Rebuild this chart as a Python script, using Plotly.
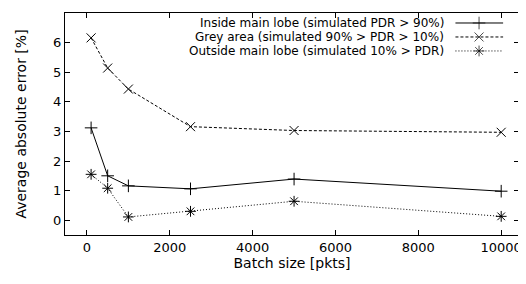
import plotly.graph_objects as go

batch_sizes = [100, 500, 1000, 2500, 5000, 10000]
inside_err = [3.12, 1.50, 1.16, 1.06, 1.39, 0.98]
grey_err = [6.16, 5.14, 4.43, 3.16, 3.03, 2.97]
outside_err = [1.55, 1.08, 0.11, 0.30, 0.64, 0.13]

series_names = [
    "Inside main lobe (simulated PDR > 90%)",
    "Grey area (simulated 90% > PDR > 10%)",
    "Outside main lobe (simulated 10% > PDR)",
]
x_ticks = [0, 2000, 4000, 6000, 8000, 10000]
x_tick_labels = ["0", "2000", "4000", "6000", "8000", "10000"]
y_ticks = [0, 1, 2, 3, 4, 5, 6, 7]

styles = [
    dict(dash="solid", symbol="cross-thin-open"),
    dict(dash="3px,2px", symbol="x-thin-open"),
    dict(dash="1px,2px", symbol="asterisk-open"),
]
values = [inside_err, grey_err, outside_err]

FONT = "DejaVu Sans, Liberation Sans, Arial, sans-serif"
fig = go.Figure()

for name, vals, st in zip(series_names, values, styles):
    fig.add_trace(go.Scatter(
        x=batch_sizes, y=vals, mode="lines+markers", name=name, showlegend=False,
        line=dict(color="black", width=1, dash=st["dash"]),
        marker=dict(symbol=st["symbol"], size=9, color="black",
                    line=dict(color="black", width=1)),
    ))

# gnuplot-style key: text right-aligned, sample on the right
key_rows = [0.955, 0.892, 0.829]
key_x0, key_xm, key_x1 = 0.860, 0.912, 0.965
for name, st, ry in zip(series_names, styles, key_rows):
    fig.add_trace(go.Scatter(
        x=[key_x0, key_xm, key_x1], y=[ry, ry, ry], xaxis="x2", yaxis="y2",
        mode="lines+markers", showlegend=False, hoverinfo="skip",
        line=dict(color="black", width=1, dash=st["dash"]),
        marker=dict(symbol=st["symbol"], size=[0, 9, 0], color="black",
                    line=dict(color="black", width=1)),
    ))
    fig.add_annotation(x=0.836, y=ry, xref="paper", yref="paper", text=name,
                       showarrow=False, xanchor="right", yanchor="middle",
                       borderpad=0,
                       font=dict(family=FONT, size=12, color="black"))

axis_common = dict(
    showgrid=False, zeroline=False, showline=True, linecolor="black", linewidth=1,
    mirror="allticks", ticks="inside", ticklen=5, tickcolor="black", tickwidth=1,
    tickfont=dict(family=FONT, size=13, color="black"),
)

fig.update_layout(
    width=518, height=276,
    margin=dict(l=57, r=5, t=4, b=49),
    paper_bgcolor="white", plot_bgcolor="white",
    font=dict(family=FONT, size=13, color="black"),
    xaxis=dict(range=[-530, 10430], tickvals=x_ticks, ticktext=x_tick_labels,
               title=dict(text="Batch size [pkts]", standoff=4,
                          font=dict(family=FONT, size=14, color="black")),
               **axis_common),
    yaxis=dict(range=[-0.5, 7], tickvals=y_ticks,
               title=dict(text="Average absolute error [%]", standoff=23,
                          font=dict(family=FONT, size=14, color="black")),
               **axis_common),
    xaxis2=dict(overlaying="x", range=[0, 1], visible=False),
    yaxis2=dict(overlaying="y", range=[0, 1], visible=False),
)

fig.write_html("out.html")
